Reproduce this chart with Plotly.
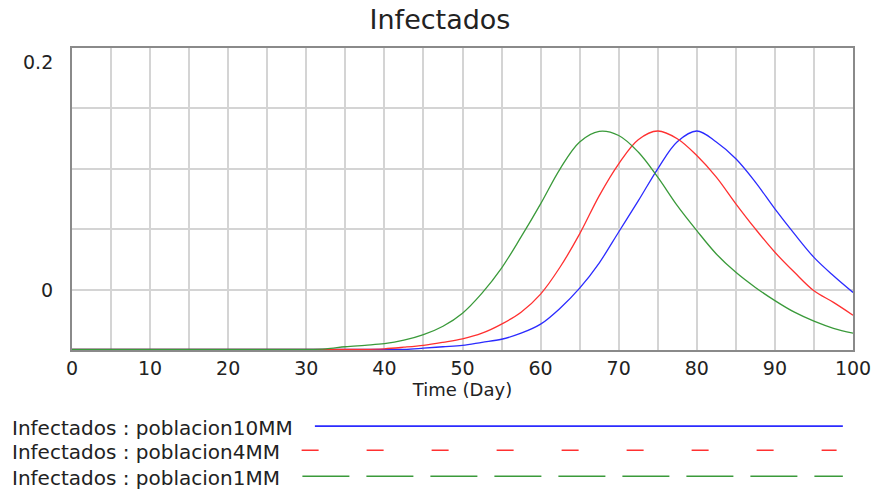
import plotly.graph_objects as go

time = [0, 2.5, 5, 7.5, 10, 12.5, 15, 17.5, 20, 22.5, 25, 27.5, 30, 32.5, 35, 37.5, 40,
        42.5, 45, 47.5, 50, 52.5, 55, 57.5, 60, 62.5, 65, 67.5, 70, 72.5, 75, 77.5, 80,
        82.5, 85, 87.5, 90, 92.5, 95, 97.5, 100]

base = -0.0495

pob1MM = [base] * 13 + [
    -0.0490, -0.0473, -0.0461, -0.0448, -0.0419, -0.0373, -0.0303, -0.0195, -0.0029,
    0.0178, 0.0436, 0.0710, 0.1000, 0.1222, 0.1310, 0.1276, 0.1139, 0.0931, 0.0695,
    0.0488, 0.0295, 0.0143, 0.0018, -0.0091, -0.0187, -0.0261, -0.0320, -0.0361]

pob4MM = [base] * 16 + [
    -0.0490, -0.0477, -0.0461, -0.0436, -0.0407, -0.0361, -0.0286, -0.0187, -0.0037,
    0.0187, 0.0461, 0.0776, 0.1041, 0.1241, 0.1313, 0.1249, 0.1110, 0.0931, 0.0710,
    0.0502, 0.0309, 0.0143, -0.0010, -0.0106, -0.0212]

pob10MM = [base] * 18 + [
    -0.0485, -0.0473, -0.0461, -0.0436, -0.0411, -0.0361, -0.0286, -0.0154, 0.0012,
    0.0220, 0.0477, 0.0734, 0.1000, 0.1224, 0.1313, 0.1222, 0.1083, 0.0890, 0.0668,
    0.0461, 0.0267, 0.0115, -0.0023]

series_names = ["Infectados : poblacion10MM", "Infectados : poblacion4MM", "Infectados : poblacion1MM"]
series_colors = ["#2b2bff", "#ff3030", "#3a9a3a"]
x_ticks = [0, 10, 20, 30, 40, 50, 60, 70, 80, 90, 100]
y_labels = [(0, "0"), (0.2, "0.2")]

FONT = "DejaVu Sans"
TXT = "#222"

fig = go.Figure()
for name, ys, col in zip(series_names, [pob10MM, pob4MM, pob1MM], series_colors):
    fig.add_trace(go.Scatter(x=time, y=ys, mode="lines", name=name,
                             line=dict(color=col, width=1.3, shape="spline", smoothing=1.0),
                             showlegend=False))

fig.update_layout(
    width=877, height=489,
    margin=dict(l=72, r=24, t=48, b=139, autoexpand=False),
    plot_bgcolor="white", paper_bgcolor="white",
    title=dict(text="Infectados", x=440 / 877, xref="container", y=1 - 20 / 489, yref="container",
               xanchor="center", yanchor="middle",
               font=dict(family=FONT, size=27, color=TXT)),
    font=dict(family=FONT, color=TXT),
)

fig.update_xaxes(
    range=[0, 100], tickvals=x_ticks, ticks="", showgrid=True, automargin=False,
    gridcolor="#d4d4d4", gridwidth=1.5,
    minor=dict(dtick=5, showgrid=True, gridcolor="#d4d4d4", gridwidth=1.5),
    showline=True, linecolor="#8a8a8a", linewidth=2, mirror=True,
    tickfont=dict(family=FONT, size=19, color=TXT),
    title=dict(text="Time (Day)", font=dict(family=FONT, size=18, color=TXT), standoff=5),
    zeroline=False,
)
fig.update_yaxes(
    range=[-0.05, 0.2], tickvals=[-0.05, 0, 0.05, 0.1, 0.15, 0.2], showticklabels=False,
    showgrid=True, gridcolor="#d4d4d4", gridwidth=1.5, automargin=False,
    showline=True, linecolor="#8a8a8a", linewidth=2, mirror=True, zeroline=False,
)

for val, txt in y_labels:
    fig.add_annotation(x=0, xref="paper", y=val, yref="y", text=txt, showarrow=False,
                       xanchor="right", yanchor="middle", xshift=-17,
                       yshift=-14 if val == 0.2 else 0,
                       font=dict(family=FONT, size=19, color=TXT))

# legend (drawn below the chart, Vensim style)
leg_y = [-0.258, -0.338, -0.424]
leg_x0 = [0.311, 0.294, 0.295]
leg_x1 = [0.987, 0.979, 0.987]
leg_dash = ["solid", "17px,48px", "47px,17px"]
for name, col, yy, x0, x1, dsh in zip(series_names, series_colors, leg_y, leg_x0, leg_x1, leg_dash):
    fig.add_annotation(x=(10 - 72) / 781, xref="paper", y=yy, yref="paper", text=name,
                       showarrow=False, xanchor="left", yanchor="middle",
                       font=dict(family=FONT, size=20, color=TXT))
    fig.add_shape(type="line", xref="paper", yref="paper", x0=x0, x1=x1, y0=yy + 0.006, y1=yy + 0.006,
                  line=dict(color=col, width=1.6, dash=dsh))

fig.write_html("out.html", config={"displayModeBar": False},
               post_script="document.body.style.margin='0';document.body.style.overflow='hidden';")
